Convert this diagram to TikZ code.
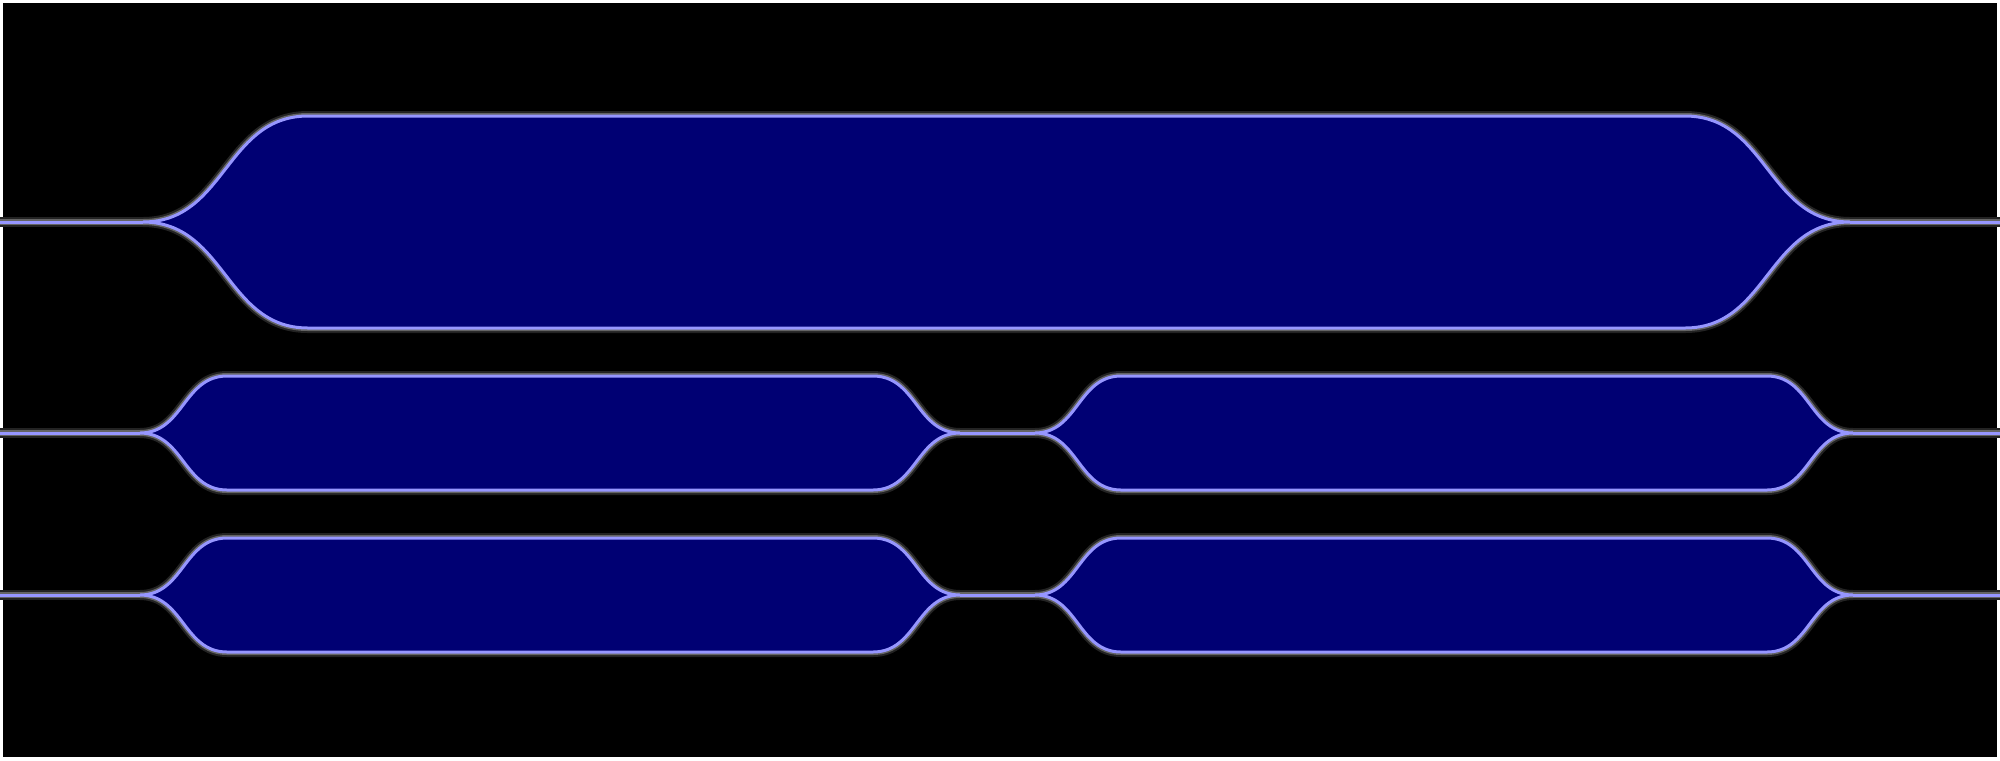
\documentclass[tikz,border=0pt]{standalone}
\usetikzlibrary{calc}
\definecolor{wgfill}{RGB}{0,0,115}
\definecolor{wgline}{RGB}{150,150,255}
\definecolor{wghaloout}{RGB}{35,35,35}
\definecolor{wghaloin}{RGB}{100,100,100}

% capsule between two forks: #1 left fork x, #2 right fork x, #3 axis y, #4 half height, #5 taper length
\newcommand\wgcapsule[5]{(#1,#3) .. controls ({#1+0.5*#5},#3) and ({#1+0.5*#5},{#3-#4}) .. ({#1+#5},{#3-#4})
  -- ({#2-#5},{#3-#4}) .. controls ({#2-0.5*#5},{#3-#4}) and ({#2-0.5*#5},#3) .. (#2,#3)
  .. controls ({#2-0.5*#5},#3) and ({#2-0.5*#5},{#3+#4}) .. ({#2-#5},{#3+#4})
  -- ({#1+#5},{#3+#4}) .. controls ({#1+0.5*#5},{#3+#4}) and ({#1+0.5*#5},#3) .. cycle}

\begin{document}
\begin{tikzpicture}[x=0.01cm, y=-0.01cm,
  haloout/.style={draw=wghaloout, line width=0.1cm, line cap=round},
  haloin/.style={draw=wghaloin, line width=0.06cm, line cap=round},
  guide/.style={draw=wgline, line width=0.03cm},
  core/.style={fill=wgfill}
]
\useasboundingbox (0,0) rectangle (2000,760);
\fill[white] (0,0) rectangle (2000,760);
\fill[black] (3,3) rectangle (1997,757);

% ports and forks
\coordinate (inA) at (0,222);    \coordinate (fAl) at (143,222);
\coordinate (fAr) at (1850,222); \coordinate (outA) at (2000,222);
\foreach \n/\y in {B/433,C/595}{
  \coordinate (in\n) at (0,\y);     \coordinate (f\n l) at (140,\y);
  \coordinate (m\n l) at (960,\y);  \coordinate (m\n r) at (1035,\y);
  \coordinate (f\n r) at (1853,\y); \coordinate (out\n) at (2000,\y);
}

% glow, then cores, then guide lines
\foreach \st in {haloout,haloin}{
  \path[\st] \wgcapsule{143}{1850}{222}{106}{165};
  \draw[\st] (inA) -- (fAl) (fAr) -- (outA);
  \foreach \n/\y in {B/433,C/595}{
    \path[\st] \wgcapsule{140}{960}{\y}{57}{87};
    \path[\st] \wgcapsule{1035}{1853}{\y}{57}{86};
    \draw[\st] (in\n) -- (f\n l) (m\n l) -- (m\n r) (f\n r) -- (out\n);
  }
}
\path[core] \wgcapsule{143}{1850}{222}{106}{165};
\foreach \y in {433,595}{
  \path[core] \wgcapsule{140}{960}{\y}{57}{87};
  \path[core] \wgcapsule{1035}{1853}{\y}{57}{86};
}
\path[guide] \wgcapsule{143}{1850}{222}{106}{165};
\draw[guide] (inA) -- (fAl) (fAr) -- (outA);
\foreach \n/\y in {B/433,C/595}{
  \path[guide] \wgcapsule{140}{960}{\y}{57}{87};
  \path[guide] \wgcapsule{1035}{1853}{\y}{57}{86};
  \draw[guide] (in\n) -- (f\n l) (m\n l) -- (m\n r) (f\n r) -- (out\n);
}
\end{tikzpicture}
\end{document}
